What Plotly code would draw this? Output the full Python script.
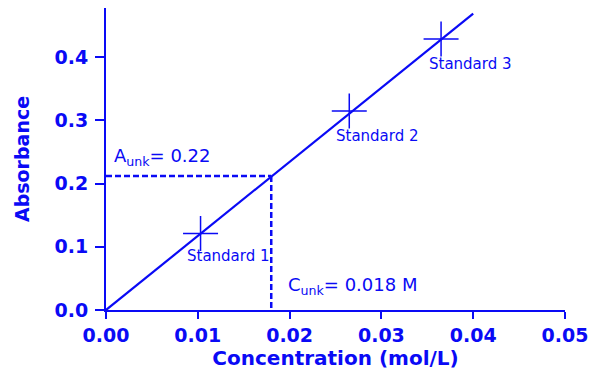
import plotly.graph_objects as go

# Data
std_names = ["Standard 1", "Standard 2", "Standard 3"]
std_conc = [0.0103, 0.0265, 0.0365]
std_abs = [0.121, 0.315, 0.429]
fit_conc = [0.0, 0.040]
fit_abs = [0.0, 0.469]
unk_conc = 0.018
unk_abs = 0.212
x_ticks = [0.00, 0.01, 0.02, 0.03, 0.04, 0.05]
x_tick_text = ["0.00", "0.01", "0.02", "0.03", "0.04", "0.05"]
y_ticks = [0.0, 0.1, 0.2, 0.3, 0.4]
y_tick_text = ["0.0", "0.1", "0.2", "0.3", "0.4"]

BLUE = "#0a0af5"

fig = go.Figure()
fig.add_trace(go.Scatter(x=fit_conc, y=fit_abs, mode="lines",
                         line=dict(color=BLUE, width=2.2), hoverinfo="skip"))
fig.add_trace(go.Scatter(x=[0, unk_conc], y=[unk_abs, unk_abs], mode="lines",
                         line=dict(color=BLUE, width=2.5, dash="6px,3px"), hoverinfo="skip"))
fig.add_trace(go.Scatter(x=[unk_conc, unk_conc], y=[unk_abs, 0], mode="lines",
                         line=dict(color=BLUE, width=2.5, dash="6px,3px"), hoverinfo="skip"))
fig.add_trace(go.Scatter(x=std_conc, y=std_abs, mode="markers",
                         marker=dict(symbol="cross-thin", size=25,
                                     line=dict(color=BLUE, width=1.5)),
                         cliponaxis=False))

label_dx = [0.0030, 0.0031, 0.0032]
label_dy = [-0.036, -0.040, -0.039]
for n, x, y, dx, dy in zip(std_names, std_conc, std_abs, label_dx, label_dy):
    fig.add_annotation(x=x + dx, y=y + dy, text=n, showarrow=False,
                       xanchor="center", yanchor="middle",
                       font=dict(family="DejaVu Sans", size=15, color=BLUE))

fig.add_annotation(x=0.0006, y=unk_abs + 0.008, text="A<sub>unk</sub>= 0.22",
                   showarrow=False, xanchor="left", yanchor="bottom",
                   font=dict(family="DejaVu Sans", size=18, color=BLUE))
fig.add_annotation(x=0.0196, y=0.016, text="C<sub>unk</sub>= 0.018 M",
                   showarrow=False, xanchor="left", yanchor="bottom",
                   font=dict(family="DejaVu Sans", size=18, color=BLUE))

axis_common = dict(showgrid=False, zeroline=False, showline=True, linecolor=BLUE,
                   linewidth=2, ticks="outside", tickcolor=BLUE, tickwidth=2,
                   tickfont=dict(family="DejaVu Sans", size=19, color=BLUE, weight="bold"))

fig.update_layout(
    width=600, height=375,
    paper_bgcolor="white", plot_bgcolor="white",
    showlegend=False,
    margin=dict(l=98, r=43, t=0, b=73),
    xaxis=dict(range=[0, 0.05], tickvals=x_ticks, ticktext=x_tick_text, ticklen=7,
               title=dict(text="Concentration (mol/L)", standoff=0,
                          font=dict(family="DejaVu Sans", size=20, color=BLUE, weight="bold")),
               **axis_common),
    yaxis=dict(range=[0, 0.478], tickvals=y_ticks, ticktext=y_tick_text, ticklen=9,
               ticklabelstandoff=3,
               title=dict(text="Absorbance", standoff=20,
                          font=dict(family="DejaVu Sans", size=19, color=BLUE, weight="bold")),
               **axis_common),
)

fig.write_html("out.html")
